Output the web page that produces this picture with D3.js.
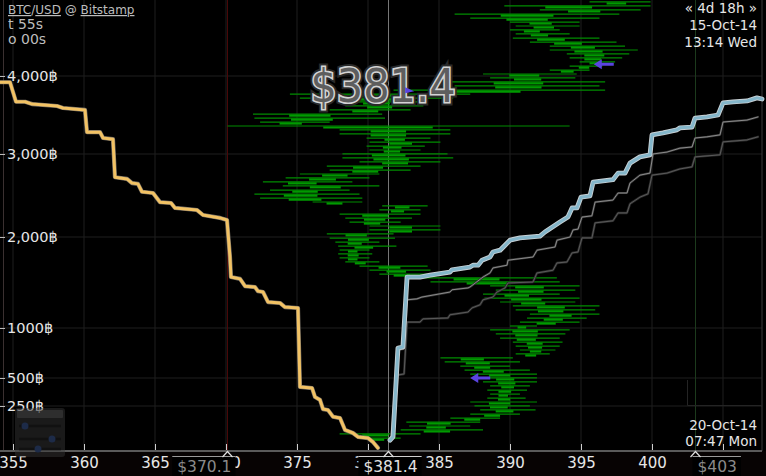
<!DOCTYPE html>
<html><head><meta charset="utf-8">
<script src="https://cdn.jsdelivr.net/npm/d3@7"></script>
<style>
html,body{margin:0;padding:0;background:#000;overflow:hidden}
svg{display:block}
text{font-family:"DejaVu Sans",Verdana,sans-serif}
</style>
</head><body>
<svg id="c" width="766" height="476"></svg>
<script>
// ---------- data ----------
const xTicks = [355,360,365,370,375,380,385,390,395,400,405];
const xTickLabels = ["355","360","365","370","375","380","385","390","395","400",""];
const yTicks = [250,500,1000,2000,3000,4000];
const yTickLabels = ["250฿","500฿","1000฿","2,000฿","3,000฿","4,000฿"];

// cumulative bid depth (yellow)
const bidPrices = [354.0,354.79,355.21,355.85,356.34,358.10,358.52,360.07,360.21,361.13,361.34,362.04,362.18,363.03,363.38,363.80,364.08,364.86,365.35,366.13,366.41,367.96,368.38,369.58,370.07,370.28,370.35,370.99,371.34,372.04,372.25,372.61,372.96,373.80,374.15,375.07,375.21,376.06,376.27,376.62,376.83,377.18,377.54,378.03,378.38,378.94,379.30,380.00,380.35,380.70];
const bidDepths = [3920,3920,3670,3670,3640,3615,3590,3565,3280,3280,3205,3190,2720,2700,2650,2640,2545,2530,2420,2410,2350,2325,2265,2230,2205,1780,1560,1540,1460,1450,1405,1395,1285,1275,1230,1220,420,410,330,305,233,228,190,183,117,100,78,72,50,17];

// cumulative ask depth (blue, current)
const askPrices = [381.55,381.76,382.11,382.46,382.75,383.66,384.37,385.77,385.92,387.18,387.39,387.75,388.03,388.59,388.80,389.30,389.65,390.00,390.70,392.11,392.46,393.52,394.08,394.37,394.72,395.00,395.63,395.85,397.25,397.61,398.10,398.45,399.15,399.86,400.00,400.77,401.76,401.97,402.82,403.03,403.87,404.65,405.00,405.70,406.69,407.39,407.75];
const askDepths = [60,78,800,810,1560,1560,1580,1615,1640,1670,1690,1690,1745,1780,1835,1855,1910,1965,1990,2010,2060,2180,2240,2350,2350,2480,2495,2660,2690,2770,2770,2890,2965,2990,3245,3270,3310,3335,3345,3460,3475,3500,3655,3667,3680,3720,3705];

// earlier ask depth snapshots (thin grey)
const askPricesA = [381.62,382.11,382.54,382.75,383.45,383.80,385.77,385.92,387.04,387.18,388.10,388.59,388.80,389.79,389.86,391.62,391.90,393.17,393.31,394.23,394.44,394.79,395.07,395.77,395.99,397.25,397.61,398.24,398.45,399.15,399.86,400.07,401.06,401.97,402.82,403.03,403.87,404.79,405.00,406.69,407.46];
const askDepthsA = [60,780,790,1310,1320,1340,1395,1420,1440,1450,1560,1605,1660,1690,1745,1780,1855,1890,1965,2000,2085,2095,2240,2255,2420,2445,2530,2530,2650,2745,2770,3000,3025,3075,3090,3205,3220,3245,3410,3435,3475];
const askPricesB = [381.62,382.11,382.54,382.75,383.66,383.87,385.63,385.77,387.04,387.32,387.89,388.10,388.80,389.08,389.65,389.86,391.62,391.90,393.03,393.31,394.01,394.37,394.79,395.07,395.77,395.99,397.25,397.61,398.24,398.45,399.15,399.72,400.00,401.06,401.97,402.82,403.03,404.79,405.00,406.69,407.46];
const askDepthsB = [55,530,540,1065,1065,1100,1110,1145,1175,1220,1255,1310,1340,1395,1440,1495,1505,1605,1635,1715,1725,1825,1835,1990,1990,2170,2195,2290,2290,2400,2480,2520,2745,2770,2820,2845,2965,2990,3155,3180,3220];

// price history: hours since 15-Oct-14 13:14, low / high traded price in that hour
const historyHours = [0.5,1.5,2.5,3.6,4.6,5.6,6.6,7.6,8.6,9.7,10.7,11.7,12.7,13.7,14.7,15.7,16.8,17.8,18.8,19.8,20.8,21.8,22.9,23.9,24.9,25.9,26.9,27.9,29.0,30.0,31.0,32.0,33.0,34.0,35.1,36.1,37.1,38.1,39.1,40.1,41.1,42.2,43.2,44.2,45.2,46.2,47.2,48.3,49.3,50.3,51.3,52.3,53.3,54.4,55.4,56.4,57.4,58.4,59.4,60.5,61.5,62.5,63.5,64.5,65.5,66.5,67.6,68.6,69.6,70.6,71.6,72.6,73.7,74.7,75.7,76.7,77.7,78.7,79.8,80.8,81.8,82.8,83.8,84.8,85.9,86.9,87.9,88.9,89.9,90.9,91.9,93.0,94.0,95.0,96.0,97.0,98.0,99.1,100.1,101.1,102.1,103.1,104.1,105.2,106.2,107.2,108.2,109.2,110.2,111.3];
const historyLow = [395.6,389.6,392.1,386.1,387.2,390.0,390.4,390.0,390.4,390.2,391.4,392.8,392.8,394.0,394.2,394.9,394.2,392.8,388.1,388.6,385.8,386.1,381.8,374.5,375.2,378.0,378.4,377.3,371.9,372.0,372.4,370.1,378.0,378.0,379.9,380.1,379.9,380.1,378.2,378.2,379.4,377.1,377.3,375.2,374.2,372.6,374.0,373.1,372.0,372.4,376.1,381.0,380.8,378.0,378.4,378.7,380.1,380.1,377.1,377.3,377.7,377.9,378.0,377.9,378.0,378.4,379.4,380.1,380.8,383.2,384.4,388.6,389.0,388.1,388.2,389.3,390.2,390.4,391.4,391.2,390.7,390.0,388.6,389.0,389.3,390.2,390.4,390.7,390.4,385.1,385.4,386.5,386.8,387.2,387.9,388.1,388.6,388.4,388.6,388.4,387.2,387.5,387.9,387.2,385.8,382.7,382.9,382.3,378.0,379.4];
const historyHigh = [399.9,399.9,399.2,397.7,396.3,394.9,394.9,393.5,394.2,396.3,397.5,398.1,399.0,398.4,397.9,397.4,396.5,395.6,394.7,394.6,396.7,396.3,396.7,387.2,386.0,383.9,383.9,383.0,381.0,381.2,377.3,394.2,385.8,385.8,384.4,385.1,384.0,383.7,385.6,386.0,385.1,383.7,383.0,380.8,380.1,378.9,380.8,378.7,379.4,379.6,379.6,384.2,383.7,383.7,383.1,382.3,385.1,385.1,381.8,381.9,380.8,382.0,380.1,380.3,380.1,380.8,384.2,384.4,384.4,393.3,393.5,394.9,394.6,393.5,394.9,394.6,396.3,396.0,396.3,395.4,394.9,391.9,394.2,393.9,393.5,393.7,393.5,393.2,392.8,390.2,390.7,390.0,391.4,391.9,391.9,391.9,391.4,391.2,390.7,391.1,391.9,391.4,391.8,390.7,389.3,387.9,387.2,388.1,383.7,382.3];
const historySpanHours = 114.55;

// order markers (purple)
const orderPrice = [395.9, 387.2, 382.9];
const orderHour  = [16.3, 96.0, 22.9];
const orderSide  = ["arrow","arrow","tri"];

// price markers along the axis
const markPrices = [370.1, 381.4, 403.0];
const markLabels = ["$370.1", "$381.4", "$403"];
const lastPrice = "$381.4";

// ---------- drawing ----------
const W = 766, H = 476, axisY = 451;
const svg = d3.select("#c");
svg.append("rect").attr("width", W).attr("height", H).attr("fill", "#000");
svg.append("rect").attr("y", axisY).attr("width", W).attr("height", H - axisY).attr("fill", "#070303");

const x = d3.scaleLinear().domain([355, 405]).range([13, 723]);
const y = d3.scaleLinear().domain([0, 250, 500, 1000, 2000, 3000, 4000]).range([axisY, 406, 378, 328, 237, 154, 76]);
const t = d3.scaleLinear().domain([0, historySpanHours]).range([0, axisY]);

// grid
const grid = svg.append("g");
grid.selectAll("line.v").data(xTicks).join("line")
  .attr("x1", d => x(d)).attr("x2", d => x(d)).attr("y1", 0).attr("y2", axisY)
  .attr("stroke", "#1e1e1e").attr("stroke-width", 1);
grid.selectAll("line.h").data(yTicks).join("line")
  .attr("x1", 0).attr("x2", 762).attr("y1", d => y(d)).attr("y2", d => y(d))
  .attr("stroke", "#1e1e1e").attr("stroke-width", 1);
svg.append("line").attr("x1", 3.5).attr("x2", 3.5).attr("y1", 0).attr("y2", axisY).attr("stroke", "#3a3030");
svg.append("line").attr("x1", 762).attr("x2", 762).attr("y1", 0).attr("y2", axisY).attr("stroke", "#3a3a3a");

// marker vertical lines
const markColors = ["#4a0808", "#777", "#1c3a1c"];
svg.selectAll("line.mk").data(markPrices).join("line")
  .attr("x1", d => Math.round(x(d)) + 0.5).attr("x2", d => Math.round(x(d)) + 0.5)
  .attr("y1", 0).attr("y2", axisY)
  .attr("stroke", (d, i) => markColors[i]).attr("stroke-width", 1);

// price history
const hist = historyHours.map((h, i) => ({h, lo: historyLow[i], hi: historyHigh[i]}));
const hg = svg.append("g");
hg.selectAll("line.hr").data(hist).join("line")
  .attr("x1", d => x(d.lo)).attr("x2", d => x(d.hi))
  .attr("y1", d => t(d.h)).attr("y2", d => t(d.h))
  .attr("stroke", "#008c00").attr("stroke-width", 1.2);
hg.selectAll("line.hc").data(hist).join("line")
  .attr("x1", d => x(d.lo + (d.hi - d.lo) * 0.28)).attr("x2", d => x(d.lo + (d.hi - d.lo) * 0.6))
  .attr("y1", d => t(d.h) + 1.5).attr("y2", d => t(d.h) + 1.5)
  .attr("stroke", "#009a00").attr("stroke-width", 2.2);

// depth curves
const line = d3.line().x(d => x(d[0])).y(d => y(d[1]));
function curve(prices, depths, strokes) {
  const pts = prices.map((p, i) => [p, depths[i]]);
  strokes.forEach(s => {
    svg.append("path").datum(pts).attr("d", line)
      .attr("fill", "none").attr("stroke", s[0]).attr("stroke-width", s[1])
      .attr("stroke-linejoin", "round").attr("stroke-linecap", "round");
  });
}
curve(askPricesB, askDepthsB, [["#2a2a2a", 2.4], ["#5a5a5a", 1]]);
curve(askPricesA, askDepthsA, [["#333", 2.2], ["#8a8a8a", 1]]);
curve(askPrices, askDepths, [["#c9d1d5", 4.8], ["#84b6ca", 3]]);
curve(bidPrices, bidDepths, [["#7a7266", 4.2], ["#f2c264", 3]]);

// big last price
const big = svg.append("g");
big.append("text").attr("x", 383).attr("y", 102).attr("text-anchor", "middle")
  .attr("textLength", 145).attr("lengthAdjust", "spacingAndGlyphs")
  .style("font-family", "'DejaVu Sans Condensed','DejaVu Sans',sans-serif")
  .style("font-size", "46px").attr("fill", "none").attr("stroke", "#2a2a2a").attr("stroke-width", 7)
  .text(lastPrice);
big.append("text").attr("x", 383).attr("y", 102).attr("text-anchor", "middle")
  .attr("textLength", 145).attr("lengthAdjust", "spacingAndGlyphs")
  .style("font-family", "'DejaVu Sans Condensed','DejaVu Sans',sans-serif")
  .style("font-size", "46px").attr("fill", "#5e5e5e").attr("stroke", "#d4d4d4").attr("stroke-width", 3.2)
  .style("paint-order", "stroke")
  .text(lastPrice);

// order markers
orderPrice.forEach((p, i) => {
  const cx = x(p), cy = t(orderHour[i]);
  if (orderSide[i] === "arrow") {
    svg.append("path")
      .attr("d", `M${cx},${cy} l8,-5 l0,3.5 l12,0 l0,3 l-12,0 l0,3.5 z`)
      .attr("fill", "#5a44e0");
  } else {
    svg.append("path").attr("d", `M${cx - 4},${cy - 3} l9,4 l-9,2 z`).attr("fill", "#5a44e0");
  }
});

// x axis
const xAxis = svg.append("g").attr("transform", `translate(0,${axisY})`)
  .call(d3.axisBottom(x).tickValues(xTicks).tickSize(-7).tickSizeOuter(0).tickPadding(6)
    .tickFormat((d, i) => xTickLabels[i]));
xAxis.select(".domain").remove();
xAxis.selectAll(".tick line").attr("stroke", "#cfcfcf");
xAxis.selectAll(".tick text").attr("fill", "#e6e6e6").style("font-size", "15px")
  .style("font-family", "'DejaVu Sans',sans-serif");
svg.append("line").attr("x1", 0).attr("x2", 762).attr("y1", axisY).attr("y2", axisY)
  .attr("stroke", "#5a5a5a").attr("stroke-width", 2);

// y axis
const yAxis = svg.append("g").attr("transform", "translate(0,0)")
  .call(d3.axisRight(y).tickValues(yTicks).tickSize(5).tickPadding(2).tickFormat((d, i) => yTickLabels[i]));
yAxis.select(".domain").remove();
yAxis.selectAll(".tick line").attr("stroke", "#bbb");
yAxis.selectAll(".tick text").attr("fill", "#e6e6e6").style("font-size", "14.5px")
  .style("font-family", "'DejaVu Sans',sans-serif");

// price boxes on axis
const boxAnchor = ["end", "middle", "start"];
const boxShift = [4, 2, 2];
const boxColor = ["#8a8a8a", "#e2e2e2", "#8a8a8a"];
markPrices.forEach((p, i) => {
  const cx = Math.round(x(p)) + 0.5;
  const g = svg.append("g");
  const tx = g.append("text").attr("x", cx + boxShift[i]).attr("y", 472)
    .attr("text-anchor", boxAnchor[i]).attr("fill", boxColor[i])
    .style("font-size", "15.5px").text(markLabels[i]);
  const bb = tx.node().getBBox();
  g.insert("rect", "text").attr("x", bb.x - 5).attr("y", 456).attr("width", bb.width + 9).attr("height", 20)
    .attr("fill", "#000");
  g.append("line").attr("x1", bb.x - 5).attr("x2", bb.x + bb.width + 4).attr("y1", 456.5).attr("y2", 456.5)
    .attr("stroke", i === 1 ? "#cfcfcf" : "#9a9a9a");
  g.append("path").attr("d", `M${cx - 5},457 L${cx},451.5 L${cx + 5},457`)
    .attr("fill", "none").attr("stroke", "#e0e0e0").attr("stroke-width", 1.2);
});

// header text
const hdr = svg.append("g").attr("fill", "#bdbdbd");
const h1 = hdr.append("text").attr("x", 8).attr("y", 14).style("font-size", "12px");
h1.append("tspan").style("text-decoration", "underline").text("BTC");
h1.append("tspan").text("/");
h1.append("tspan").style("text-decoration", "underline").text("USD");
h1.append("tspan").text(" @ ");
h1.append("tspan").style("text-decoration", "underline").text("Bitstamp");
hdr.append("text").attr("x", 8).attr("y", 29).style("font-size", "14px").text("t 55s");
hdr.append("text").attr("x", 8).attr("y", 43.5).style("font-size", "14px").text("o 00s");

const tr = svg.append("g").attr("fill", "#e6e6e6").style("font-size", "13.5px").attr("text-anchor", "end");
tr.append("text").attr("x", 757).attr("y", 13).text("« 4d 18h »");
tr.append("text").attr("x", 757).attr("y", 30).text("15-Oct-14");
tr.append("text").attr("x", 757).attr("y", 47).text("13:14 Wed");
tr.append("text").attr("x", 757).attr("y", 430).text("20-Oct-14");
tr.append("text").attr("x", 757).attr("y", 446).text("07:47 Mon");
svg.append("path").attr("d", "M687.5,380 L687.5,405.5 L762,405.5").attr("fill", "none").attr("stroke", "#242424");

// control widget
const wg = svg.append("g");
wg.append("rect").attr("x", 15).attr("y", 408).attr("width", 50).attr("height", 49).attr("rx", 3)
  .attr("fill", "#3a3a3a").attr("opacity", 0.45);
wg.append("rect").attr("x", 17).attr("y", 410).attr("width", 46).attr("height", 8).attr("rx", 1)
  .attr("fill", "#555").attr("opacity", 0.35);
[[426, 25], [439, 52], [449, 38]].forEach(([yy, kx]) => {
  wg.append("line").attr("x1", 19).attr("x2", 61).attr("y1", yy).attr("y2", yy)
    .attr("stroke", "#111").attr("stroke-width", 2.5);
  wg.append("circle").attr("cx", kx).attr("cy", yy).attr("r", 3.5).attr("fill", "#1d2b48");
});
</script>
</body></html>
